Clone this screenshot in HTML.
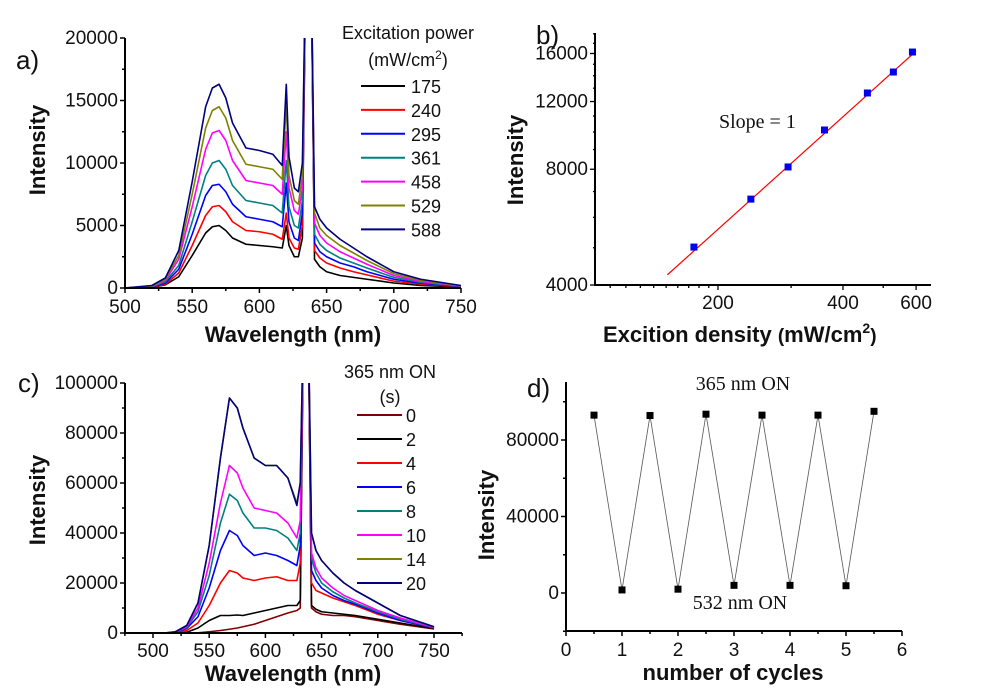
<!DOCTYPE html>
<html><head><meta charset="utf-8">
<style>
body{margin:0;background:#fff;}
svg{display:block;font-family:"Liberation Sans",Arial,sans-serif;}
.tk{font-size:19px;fill:#111;}
.ti{font-size:22px;font-weight:bold;fill:#111;}
.lg{font-size:18px;fill:#111;}
.pl{font-size:26px;fill:#111;}
.tm{font-family:"Liberation Serif",serif;font-size:20px;fill:#111;}
</style></head>
<body>
<svg id="fig" width="986" height="692" viewBox="0 0 986 692">
<defs>
<clipPath id="ca"><rect x="125" y="38" width="336" height="250"/></clipPath>
<clipPath id="cc"><rect x="125" y="383" width="337" height="250"/></clipPath>
</defs>
<g id="pa"></g>
<g id="pb"></g>
<g id="pc"></g>
<g id="pd"></g>
</svg>
<script>
// ---------- Panel a data ----------
const waveA = [500,520,530,540,550,560,565,570,575,580,590,600,610,617,620,622,626,629,632,635,638,641,645,650,660,670,680,700,720,750];
const powerLabels = ["175","240","295","361","458","529","588"];
const powerColors = ["#000000","#ff0000","#0000ff","#008080","#ff00ff","#808000","#000080"];
const a175 = [0,50,250,900,2600,4400,4900,5000,4600,4000,3500,3400,3300,3200,5000,3400,2500,2500,4000,30000,30000,2300,1700,1300,1000,850,700,400,200,80];
const a240 = [0,60,300,1200,3400,5800,6500,6600,6100,5300,4600,4500,4300,3900,6000,4000,3200,3100,5000,30000,30000,3000,2400,2000,1600,1300,1050,550,300,100];
const a295 = [0,80,400,1500,4300,7400,8200,8300,7700,6700,5700,5500,5300,4900,8400,5300,4000,3800,6000,30000,30000,3600,2900,2500,2000,1700,1300,700,380,120];
const a361 = [0,100,500,1800,5300,9000,10000,10200,9500,8200,7000,6800,6600,6000,10200,6500,5000,4800,7000,30000,30000,4300,3500,3000,2400,2000,1600,850,450,140];
const a458 = [0,130,600,2300,6500,11100,12400,12600,11800,10200,8600,8400,8200,7500,12500,8000,6200,5900,8000,30000,30000,5200,4200,3600,2900,2400,1900,1000,520,160];
const a529 = [0,150,700,2600,7500,12800,14200,14500,13600,11800,9900,9700,9500,8700,14800,9000,7000,6700,9000,30000,30000,6000,4800,4200,3400,2800,2200,1150,600,180];
const a588 = [0,200,800,3000,8500,14500,16000,16300,15200,13200,11200,11000,10700,9800,16300,10500,8000,7700,10000,30000,30000,6500,5500,4800,3900,3200,2500,1300,700,200];
const seriesA = [a175,a240,a295,a361,a458,a529,a588];
const ticksAx = [500,550,600,650,700,750];
const ticksAy = [0,5000,10000,15000,20000];

// ---------- Panel b data ----------
const powerB = [175,240,295,361,458,529,588];
const intensB = [5020,6690,8110,10120,12630,14320,16140];
const fitX = [151,600];
const fitY = [4250,16240];
const ticksBx = [200,400,600];
const ticksBy = [4000,8000,12000,16000];

// ---------- Panel c data ----------
const waveC = [510,520,530,540,550,560,568,575,580,590,600,610,620,628,631,634,638,641,645,650,660,670,680,700,720,750];
const timeLabels = ["0","2","4","6","8","10","14","20"];
const timeColors = ["#800000","#000000","#ff0000","#0000ff","#008080","#ff00ff","#808000","#000080"];
const c0 = [0,0,0,100,500,1000,1500,2000,2500,3500,5000,6500,8000,9000,10000,130000,130000,10000,8500,7500,7000,7000,6500,5000,3500,1600];
const c2 = [0,50,300,2000,5000,7000,7000,7200,7000,8000,9000,10000,11000,11000,13000,130000,130000,11000,9500,8500,8000,7500,7000,5500,4000,1800];
const c4 = [0,200,1000,4000,11000,20000,25000,24000,22000,21000,22000,22500,21000,21000,28000,130000,130000,20000,17000,16000,14000,12500,11000,7500,5000,2000];
const c6 = [0,300,1800,6500,18000,33000,41000,39000,35000,31000,32000,31000,29000,27000,35000,130000,130000,25000,21000,18000,15000,13000,11500,8000,5000,2100];
const c8 = [0,350,2200,8500,23000,44000,55500,53000,48000,42000,42000,41000,38000,33000,40000,130000,130000,30000,24000,20000,16500,14000,12000,8500,5500,2200];
const c10 = [0,400,2500,10000,28000,52000,67000,64000,58000,50000,49000,48000,44000,38000,45000,130000,130000,32000,26000,22000,18000,15000,13000,9000,6000,2300];
const c14 = [0,500,3000,12000,35000,70000,94000,90000,82000,70000,67000,67000,62000,52000,60000,130000,130000,40000,33000,29000,24000,20000,17000,12000,7000,2500];
const c20 = [0,500,3000,12000,35000,70000,94000,90000,82000,70000,67000,67000,62000,51000,60000,130000,130000,40000,33000,29000,24000,20000,17000,12000,7000,2500];
const seriesC = [c0,c2,c4,c6,c8,c10,c14,c20];
const ticksCx = [500,550,600,650,700,750];
const ticksCy = [0,20000,40000,60000,80000,100000];

// ---------- Panel d data ----------
const cyclesD = [0.5,1,1.5,2,2.5,3,3.5,4,4.5,5,5.5];
const intensD = [93000,1600,92800,2000,93500,4000,93000,4000,93000,3800,95000];
const ticksDx = [0,1,2,3,4,5,6];
const ticksDy = [0,40000,80000];

const NS="http://www.w3.org/2000/svg";
function mk(parent,tag,attrs,text){const e=document.createElementNS(NS,tag);for(const k in attrs)e.setAttribute(k,attrs[k]);if(text!==undefined)e.textContent=text;parent.appendChild(e);return e;}

// ===== Panel a =====
(function(){
const g=document.getElementById('pa');
const x0=125,x1=461,y0=288,y1=38;
const sx=v=>x0+(v-500)/250*(x1-x0);
const sy=v=>y0-v/20000*(y0-y1);
const cg=mk(g,'g',{'clip-path':'url(#ca)'});
seriesA.forEach((s,i)=>{
  const p=mk(cg,'polyline',{points:s.map((v,j)=>sx(waveA[j])+','+sy(v)).join(' '),fill:'none',stroke:powerColors[i],'stroke-width':1.6,'stroke-linejoin':'round'});
  
  
});
const ax=mk(g,'path',{d:`M${x0},${y1}V${y0}H${x1}`,fill:'none',stroke:'#000','stroke-width':2});

for(let v=0;v<=20000;v+=2500){mk(g,'line',{x1:x0-(v%5000?3:5),x2:x0,y1:sy(v),y2:sy(v),stroke:'#000','stroke-width':1.5});}
for(let v=500;v<=750;v+=25){mk(g,'line',{x1:sx(v),x2:sx(v),y1:y0,y2:y0+(v%50?3:5),stroke:'#000','stroke-width':1.5});}
ticksAy.forEach(v=>{const t=mk(g,'text',{x:x0-7,y:sy(v)+6,'text-anchor':'end',class:'tk'},v);});
ticksAx.forEach(v=>{const t=mk(g,'text',{x:sx(v),y:313,'text-anchor':'middle',class:'tk'},v);});
const ty=mk(g,'text',{x:0,y:0,class:'ti','text-anchor':'middle',transform:'translate(45,150) rotate(-90)'},'Intensity');

const tx=mk(g,'text',{x:293,y:342,class:'ti','text-anchor':'middle'},'Wavelength (nm)');

const lbl=mk(g,'text',{x:16,y:69,class:'pl'},'a)');
const lt=mk(g,'text',{x:408,y:39,'text-anchor':'middle',class:'lg'},'Excitation power');

const lu=mk(g,'text',{x:408,y:66,'text-anchor':'middle',class:'lg'});

lu.innerHTML='(mW/cm<tspan dy="-7" font-size="12">2</tspan><tspan dy="7">)</tspan>';
powerLabels.forEach((l,i)=>{const y=86+i*23.9;
 const e=mk(g,'g',{});
 mk(e,'line',{x1:361,x2:405,y1:y,y2:y,stroke:powerColors[i],'stroke-width':2});
 mk(e,'text',{x:411,y:y+7,class:'lg'},l);});
})();

// ===== Panel b =====
(function(){
const g=document.getElementById('pb');
const x0=595,x1=931,y0=285,y1=33;
const sx=v=>718+Math.log(v/200)*180.3;
const sy=v=>y0-Math.log(v/4000)*167;
const ax=mk(g,'path',{d:`M${x0},${y1}V${y0}H${x1}`,fill:'none',stroke:'#000','stroke-width':2});

for(let v=4000;v<=18000;v+=1000){mk(g,'line',{x1:x0-(v%4000?2:5),x2:x0,y1:sy(v),y2:sy(v),stroke:'#000','stroke-width':1.3});}
[110,120,130,140,150,160,170,180,190,200,300,400,500,600,700].forEach(v=>{if(sx(v)<x1)mk(g,'line',{x1:sx(v),x2:sx(v),y1:y0,y2:y0+([200,400,600].includes(v)?5:3),stroke:'#000','stroke-width':1.3});});
ticksBy.forEach(v=>{const t=mk(g,'text',{x:x0-7,y:sy(v)+6,'text-anchor':'end',class:'tk'},v);});
ticksBx.forEach(v=>{const t=mk(g,'text',{x:sx(v),y:309,'text-anchor':'middle',class:'tk'},v);});
const fl=mk(g,'line',{x1:sx(fitX[0]),y1:sy(fitY[0]),x2:sx(fitX[1]),y2:sy(fitY[1]),stroke:'#ff0000','stroke-width':1.2});

powerB.forEach((p,i)=>{const r=mk(g,'rect',{x:sx(p)-3.5,y:sy(intensB[i])-3.5,width:7,height:7,fill:'#0000ee'});
 });
const sl=mk(g,'text',{x:719,y:128,class:'tm'},'Slope = 1');
const ty=mk(g,'text',{x:0,y:0,class:'ti','text-anchor':'middle',transform:'translate(523,160) rotate(-90)'},'Intensity');

const tx=mk(g,'text',{x:603,y:342,class:'ti'});
tx.innerHTML='Excition density <tspan font-size="19">(</tspan>mW/cm<tspan dy="-9" font-size="14">2</tspan><tspan dy="9" font-size="19">)</tspan>';
const lbl=mk(g,'text',{x:536,y:44,class:'pl'},'b)');
})();

// ===== Panel c =====
(function(){
const g=document.getElementById('pc');
const x0=125,x1=462,y0=633,y1=383;
const sx=v=>153+(v-500)*1.124;
const sy=v=>y0-v/100000*(y0-y1);
const cg=mk(g,'g',{'clip-path':'url(#cc)'});
seriesC.forEach((s,i)=>{
  const p=mk(cg,'polyline',{points:s.map((v,j)=>sx(waveC[j])+','+sy(v)).join(' '),fill:'none',stroke:timeColors[i],'stroke-width':1.6,'stroke-linejoin':'round'});
  
  
});
const ax=mk(g,'path',{d:`M${x0},${y1}V${y0}H${x1}`,fill:'none',stroke:'#000','stroke-width':2});

for(let v=0;v<=100000;v+=10000){mk(g,'line',{x1:x0-(v%20000?3:5),x2:x0,y1:sy(v),y2:sy(v),stroke:'#000','stroke-width':1.5});}
for(let v=475;v<=775;v+=25){mk(g,'line',{x1:sx(v),x2:sx(v),y1:y0,y2:y0+(v%50?3:5),stroke:'#000','stroke-width':1.5});}
ticksCy.forEach(v=>{const t=mk(g,'text',{x:x0-7,y:sy(v)+6,'text-anchor':'end',class:'tk'},v);});
ticksCx.forEach(v=>{const t=mk(g,'text',{x:sx(v),y:657,'text-anchor':'middle',class:'tk'},v);});
const ty=mk(g,'text',{x:0,y:0,class:'ti','text-anchor':'middle',transform:'translate(45,500) rotate(-90)'},'Intensity');

const tx=mk(g,'text',{x:293,y:681,class:'ti','text-anchor':'middle'},'Wavelength (nm)');

const lbl=mk(g,'text',{x:18,y:392,class:'pl'},'c)');
const lt=mk(g,'text',{x:390,y:378,'text-anchor':'middle',class:'lg'},'365 nm ON');

const lu=mk(g,'text',{x:390,y:403,'text-anchor':'middle',class:'lg'},'(s)');

timeLabels.forEach((l,i)=>{const y=415+i*24;
 const e=mk(g,'g',{});
 mk(e,'line',{x1:357,x2:402,y1:y,y2:y,stroke:timeColors[i],'stroke-width':2});
 mk(e,'text',{x:406,y:y+7,class:'lg'},l);});
})();

// ===== Panel d =====
(function(){
const g=document.getElementById('pd');
const x0=566,x1=902,y0=631,y1=382;
const sx=v=>x0+v*56;
const sy=v=>593-v/80000*153;
const ax=mk(g,'path',{d:`M${x0},${y1}V${y0}H${x1}`,fill:'none',stroke:'#000','stroke-width':2});

for(let v=-20000;v<=100000;v+=20000){mk(g,'line',{x1:x0-(v%40000?3:5),x2:x0,y1:sy(v),y2:sy(v),stroke:'#000','stroke-width':1.5});}
for(let v=0;v<=6;v+=0.5){mk(g,'line',{x1:sx(v),x2:sx(v),y1:y0,y2:y0+(v%1?3:5),stroke:'#000','stroke-width':1.5});}
ticksDy.forEach(v=>{const t=mk(g,'text',{x:x0-7,y:sy(v)+6,'text-anchor':'end',class:'tk'},v);});
ticksDx.forEach(v=>{const t=mk(g,'text',{x:sx(v),y:656,'text-anchor':'middle',class:'tk'},v);});
const ln=mk(g,'polyline',{points:cyclesD.map((c,i)=>sx(c)+','+sy(intensD[i])).join(' '),fill:'none',stroke:'#555','stroke-width':0.8});

cyclesD.forEach((c,i)=>{const r=mk(g,'rect',{x:sx(c)-3.5,y:sy(intensD[i])-3.5,width:7,height:7,fill:'#000'});
 });
const t1=mk(g,'text',{x:743,y:390,'text-anchor':'middle',class:'tm'},'365 nm ON');
const t2=mk(g,'text',{x:740,y:609,'text-anchor':'middle',class:'tm'},'532 nm ON');
const ty=mk(g,'text',{x:0,y:0,class:'ti','text-anchor':'middle',transform:'translate(494,515) rotate(-90)'},'Intensity');

const tx=mk(g,'text',{x:733,y:680,class:'ti','text-anchor':'middle'},'number of cycles');

const lbl=mk(g,'text',{x:527,y:397,class:'pl'},'d)');
})();
</script>
</body></html>
